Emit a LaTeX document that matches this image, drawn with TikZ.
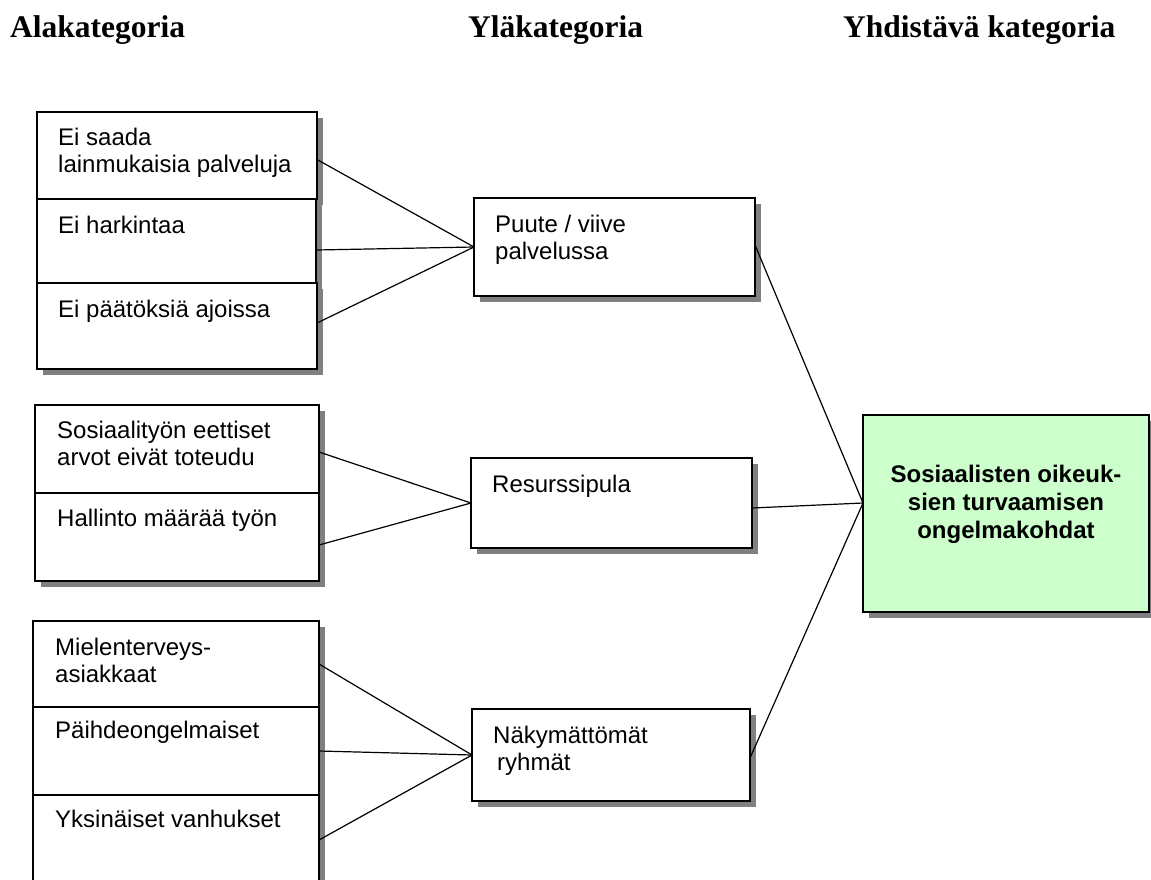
\documentclass[tikz,border=0pt]{standalone}
\usepackage{fontspec}
\setmainfont{Liberation Serif}
\setsansfont{Liberation Sans}
\usetikzlibrary{shadows}
\definecolor{boxgreen}{HTML}{CCFFCC}
\begin{document}
\begin{tikzpicture}[x=1pt,y=-1pt,
  cell/.style={rectangle, draw=black, line width=1.4pt, fill=white,
    inner sep=0pt, outer sep=0pt, anchor=north west,
    drop shadow={shadow xshift=6pt, shadow yshift=-6pt, fill=black!50, opacity=1}},
  txt/.style={anchor=north west, inner sep=0pt, align=left,
    font=\sffamily\fontsize{24}{27}\selectfont},
  head/.style={anchor=base west, inner sep=0pt,
    font=\rmfamily\bfseries\fontsize{31.5}{36}\selectfont},
  link/.style={draw=black, line width=1.2pt}
]
\useasboundingbox (0,0) rectangle (1151,879);

% column headings
\node[head] (h1) at (10,37) {Alakategoria};
\node[head] (h2) at (468,37) {Yläkategoria};
\node[head] (h3) at (843,37) {Yhdistävä kategoria};

% first group of subcategories
\node[cell, minimum width=280pt, minimum height=87pt] (a1) at (37,112) {};
\node[cell, minimum width=279pt, minimum height=84pt] (a2) at (37,199) {};
\node[cell, minimum width=280pt, minimum height=86pt] (a3) at (37,283) {};
\node[txt] (a1t) at (58,127.5) {Ei saada\\lainmukaisia palveluja};
\node[txt] (a2t) at (58,215.5) {Ei harkintaa};
\node[txt] (a3t) at (58,299.5) {Ei päätöksiä ajoissa};

% second group of subcategories
\node[cell, minimum width=284pt, minimum height=88pt] (b1) at (35,405) {};
\node[cell, minimum width=284pt, minimum height=88pt] (b2) at (35,493) {};
\node[txt] (b1t) at (57,420.5) {Sosiaalityön eettiset\\arvot eivät toteudu};
\node[txt] (b2t) at (57,508.5) {Hallinto määrää työn};

% third group of subcategories
\node[cell, minimum width=286pt, minimum height=86pt] (c1) at (33,621) {};
\node[cell, minimum width=286pt, minimum height=88pt] (c2) at (33,707) {};
\node[cell, minimum width=286pt, minimum height=90pt] (c3) at (33,795) {};
\node[txt] (c1t) at (55,637.5) {Mielenterveys-\\asiakkaat};
\node[txt] (c2t) at (55,720.5) {Päihdeongelmaiset};
\node[txt] (c3t) at (55,809.5) {Yksinäiset vanhukset};

% upper categories
\node[cell, minimum width=281pt, minimum height=98pt] (p) at (474,198) {};
\node[cell, minimum width=281pt, minimum height=90pt] (r) at (471,458) {};
\node[cell, minimum width=278pt, minimum height=92pt] (n) at (472,709) {};
\node[txt] (pt) at (495,214.5) {Puute / viive\\palvelussa};
\node[txt] (rt) at (492,474.5) {Resurssipula};
\node[txt] (nt) at (493,725.5) {Näkymättömät\\\hspace*{4pt}ryhmät};

% combining category
\node[cell, fill=boxgreen, minimum width=286pt, minimum height=197pt] (g) at (863,415) {};
\node[anchor=north, inner sep=0pt, align=center,
  font=\sffamily\bfseries\fontsize{24}{28}\selectfont] (gt) at (1006,464.5)
  {Sosiaalisten oikeuk-\\sien turvaamisen\\ongelmakohdat};

% connectors
\draw[link] ([yshift=-4pt]a1.east) -- (p.west);
\draw[link] ([yshift=-9pt]a2.east) -- (p.west);
\draw[link] ([yshift=3pt]a3.east) -- (p.west);
\draw[link] ([yshift=-3pt]b1.east) -- (r.west);
\draw[link] ([yshift=-8pt]b2.east) -- (r.west);
\draw[link] (c1.east) -- (n.west);
\draw[link] (c2.east) -- (n.west);
\draw[link] (c3.east) -- (n.west);
\draw[link] ([yshift=2pt]p.east) -- ([yshift=10.5pt]g.west);
\draw[link] ([yshift=-5pt]r.east) -- ([yshift=10.5pt]g.west);
\draw[link] ([yshift=-3pt]n.east) -- ([yshift=10.5pt]g.west);
\end{tikzpicture}
\end{document}
